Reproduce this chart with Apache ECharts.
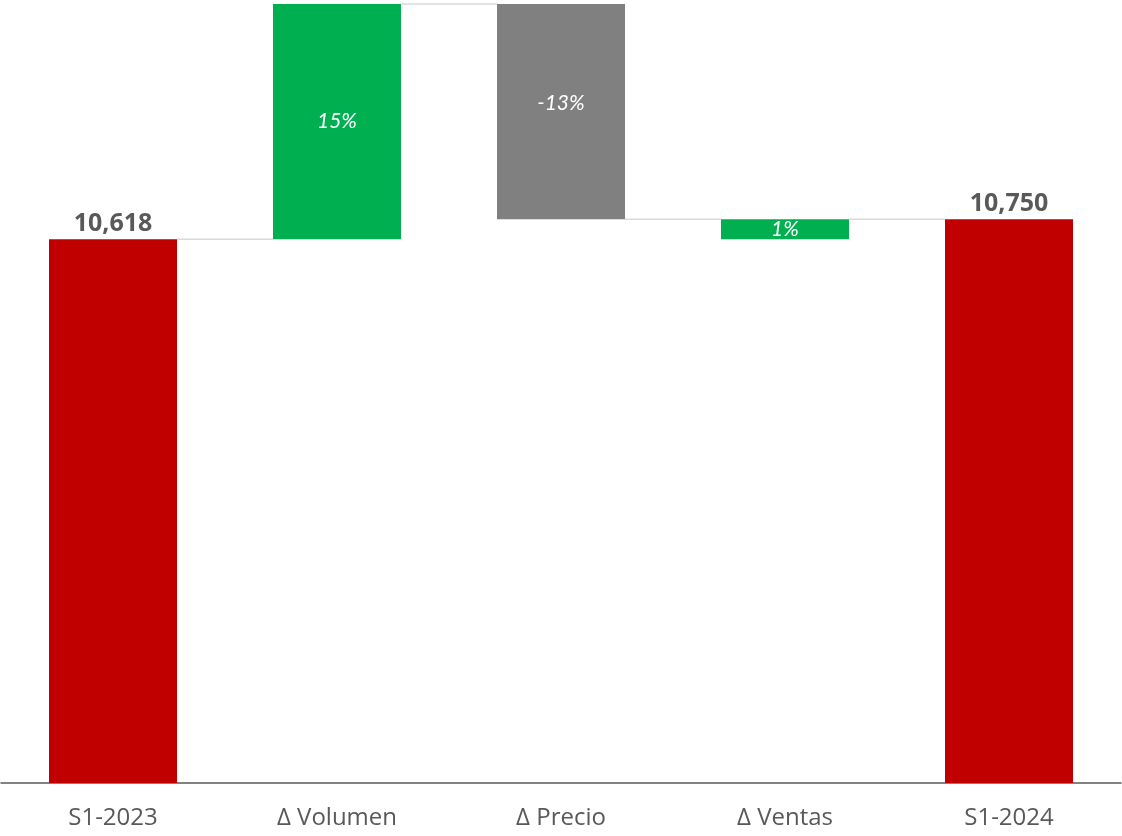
<!DOCTYPE html>
<html>
<head>
<meta charset="utf-8">
<script src="https://cdn.jsdelivr.net/npm/echarts@6/dist/echarts.min.js"></script>
<style>
html,body{margin:0;padding:0;background:#fff;}
#chart{width:1122px;height:836px;}
</style>
</head>
<body>
<div id="chart"></div>
<script>
// ---- data ----
var categories = ['S1-2023', '\u0394 Volumen', '\u0394 Precio', '\u0394 Ventas', 'S1-2024'];
var kinds      = ['total', 'up', 'down', 'up', 'total'];
var barStart   = [0, 10618, 10750, 10618, 0];          // bottom of each floating bar
var barEnd     = [10618, 12171, 12171, 10750, 10750];  // top of each floating bar
var pctLabels  = ['', '15%', '-13%', '1%', ''];
var connectorLevels = [10618, 12171, 10750, 10750];    // level linking bar i to bar i+1
var axisMin = 7030, axisMax = 12171;

var colors = { total: '#C00000', up: '#00B050', down: '#808080' };
var BAR_W = 128;

function fmt(v){ return v.toLocaleString('en-US'); }

var baseData = barStart.slice();
var visData = barEnd.map(function(v, i){
  var k = kinds[i];
  var item = { value: v - barStart[i], itemStyle: { color: colors[k] } };
  if (k === 'total') {
    item.label = {
      show: true, position: 'top', distance: 3,
      formatter: fmt(v),
      fontFamily: 'Open Sans', fontWeight: 'bold', fontSize: 25, color: '#595959'
    };
  } else {
    item.label = {
      show: true, position: 'inside',
      formatter: pctLabels[i],
      fontFamily: 'Lato', fontStyle: 'italic', fontSize: 21, color: '#ffffff',
      offset: k === 'down' ? [0, -8] : [0, 0]
    };
  }
  return item;
});

var connectorData = connectorLevels.map(function(lv, i){ return [i, lv]; });

var chart = echarts.init(document.getElementById('chart'), null, { renderer: 'canvas' });
chart.setOption({
  animation: false,
  backgroundColor: '#ffffff',
  grid: { left: 1, right: 1, top: 4, bottom: 53, containLabel: false },
  xAxis: {
    type: 'category',
    data: categories,
    axisTick: { show: false },
    axisLine: { show: true, lineStyle: { color: '#595959', width: 1.5 } },
    axisLabel: { color: '#595959', fontFamily: 'Open Sans', fontSize: 24, margin: 23 }
  },
  yAxis: {
    type: 'value', min: axisMin, max: axisMax,
    show: false, splitLine: { show: false }
  },
  series: [
    {
      type: 'bar', stack: 'w', z: 2,
      barWidth: BAR_W,
      itemStyle: { color: 'transparent' },
      emphasis: { disabled: true },
      silent: true,
      data: baseData
    },
    {
      type: 'bar', stack: 'w', z: 3,
      barWidth: BAR_W,
      emphasis: { disabled: true },
      data: visData
    },
    {
      type: 'custom', z: 1, silent: true,
      data: connectorData,
      renderItem: function(params, api){
        var i = api.value(0), lv = api.value(1);
        var p1 = api.coord([i, lv]);
        var p2 = api.coord([i + 1, lv]);
        return {
          type: 'line',
          shape: { x1: p1[0] + BAR_W / 2, y1: p1[1], x2: p2[0] - BAR_W / 2, y2: p2[1] },
          style: { stroke: '#D9D9D9', lineWidth: 1.5 }
        };
      }
    }
  ]
});
</script>
</body>
</html>
